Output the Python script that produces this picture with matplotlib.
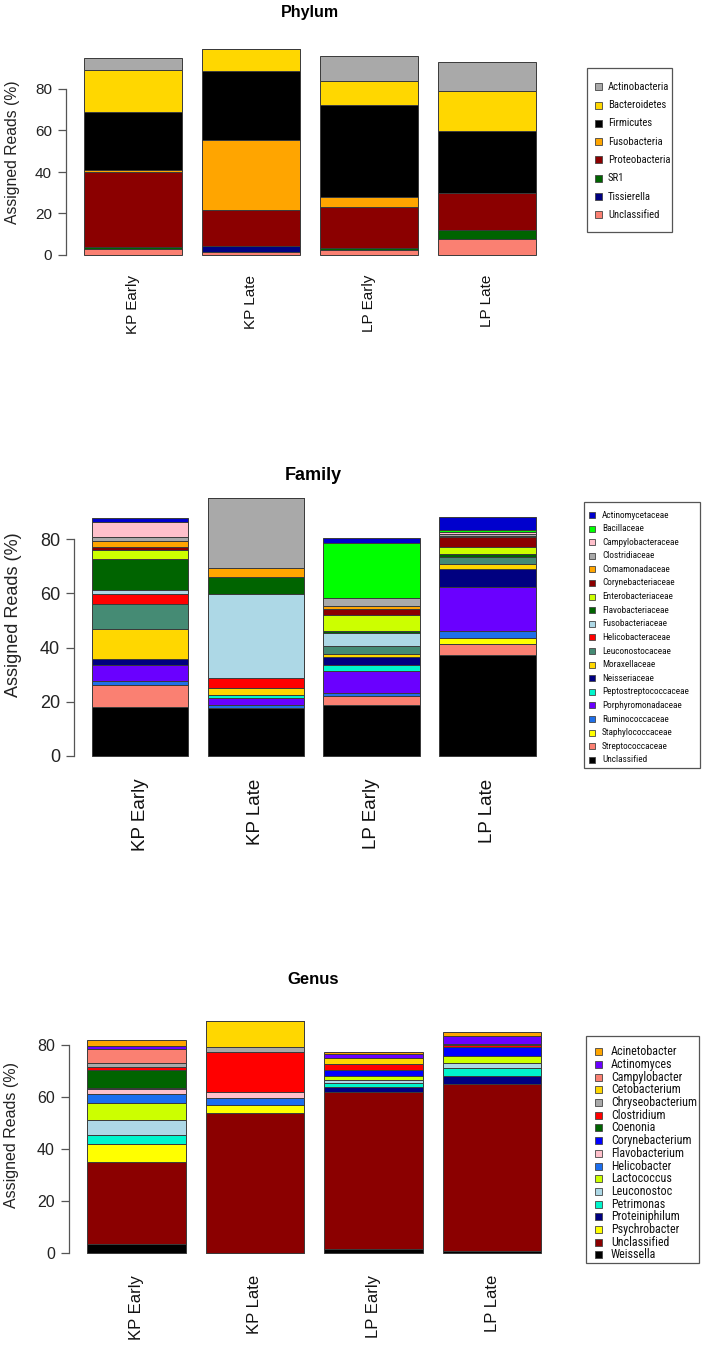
import matplotlib
matplotlib.use("Agg")
import matplotlib.pyplot as plt
from matplotlib.patches import Rectangle
from matplotlib import font_manager as fm
import numpy as np

W, H = 703, 1349
samples = ["KP Early", "KP Late", "LP Early", "LP Late"]

# ---------------- Phylum (stack order bottom -> top) ----------------
phylum_names = ["Unclassified", "Tissierella", "SR1", "Proteobacteria",
                "Fusobacteria", "Firmicutes", "Bacteroidetes", "Actinobacteria"]
phylum_colors = ["#FA8072", "#000080", "#006400", "#8B0000",
                 "#FFA500", "#000000", "#FFD700", "#A9A9A9"]
ph_unclassified = [2.7, 1.6, 2.4, 7.9]
ph_tissierella = [0.0, 2.7, 0.0, 0.0]
ph_sr1 = [1.3, 0.0, 1.1, 4.1]
ph_proteobacteria = [35.8, 17.4, 19.6, 18.0]
ph_fusobacteria = [1.3, 33.6, 4.9, 0.0]
ph_firmicutes = [28.0, 33.4, 44.4, 29.9]
ph_bacteroidetes = [19.9, 10.6, 11.5, 19.3]
ph_actinobacteria = [6.1, 0.0, 12.1, 13.8]
phylum_vals = [ph_unclassified, ph_tissierella, ph_sr1, ph_proteobacteria,
               ph_fusobacteria, ph_firmicutes, ph_bacteroidetes, ph_actinobacteria]

# ---------------- Family ----------------
family_names = ["Unclassified", "Streptococcaceae", "Staphylococcaceae", "Ruminococcaceae",
                "Porphyromonadaceae", "Peptostreptococcaceae", "Neisseriaceae", "Moraxellaceae",
                "Leuconostocaceae", "Helicobacteraceae", "Fusobacteriaceae", "Flavobacteriaceae",
                "Enterobacteriaceae", "Corynebacteriaceae", "Comamonadaceae", "Clostridiaceae",
                "Campylobacteraceae", "Bacillaceae", "Actinomycetaceae"]
family_colors = ["#000000", "#FA8072", "#FFFF00", "#1F6FE8",
                 "#6A00FF", "#00F5CC", "#000080", "#FFD700",
                 "#458B74", "#FF0000", "#ADD8E6", "#006400",
                 "#CCFF00", "#8B0000", "#FFA500", "#A9A9A9",
                 "#FFC0CB", "#00FF00", "#0000CD"]
fa_unclassified = [18.2, 17.6, 18.7, 37.3]
fa_streptococcaceae = [8.1, 0.0, 3.4, 4.0]
fa_staphylococcaceae = [0.0, 0.0, 0.0, 2.1]
fa_ruminococcaceae = [1.3, 1.1, 1.0, 2.7]
fa_porphyromonadaceae = [5.9, 2.6, 8.3, 16.4]
fa_peptostreptococcaceae = [0.0, 1.1, 2.2, 0.0]
fa_neisseriaceae = [2.4, 0.0, 2.8, 6.5]
fa_moraxellaceae = [11.0, 2.8, 1.2, 1.8]
fa_leuconostocaceae = [9.1, 0.0, 3.1, 2.8]
fa_helicobacteraceae = [3.9, 3.7, 0.0, 0.0]
fa_fusobacteriaceae = [1.5, 30.8, 4.8, 0.0]
fa_flavobacteriaceae = [11.4, 6.2, 0.6, 0.8]
fa_enterobacteriaceae = [3.2, 0.0, 5.8, 2.8]
fa_corynebacteriaceae = [1.0, 0.0, 2.5, 3.5]
fa_comamonadaceae = [2.5, 3.6, 1.1, 0.6]
fa_clostridiaceae = [1.4, 25.6, 2.9, 0.7]
fa_campylobacteraceae = [5.6, 0.0, 0.0, 0.5]
fa_bacillaceae = [0.0, 0.0, 20.3, 0.9]
fa_actinomycetaceae = [1.3, 0.0, 1.9, 4.7]
family_vals = [fa_unclassified, fa_streptococcaceae, fa_staphylococcaceae, fa_ruminococcaceae,
               fa_porphyromonadaceae, fa_peptostreptococcaceae, fa_neisseriaceae, fa_moraxellaceae,
               fa_leuconostocaceae, fa_helicobacteraceae, fa_fusobacteriaceae, fa_flavobacteriaceae,
               fa_enterobacteriaceae, fa_corynebacteriaceae, fa_comamonadaceae, fa_clostridiaceae,
               fa_campylobacteraceae, fa_bacillaceae, fa_actinomycetaceae]

# ---------------- Genus ----------------
genus_names = ["Weissella", "Unclassified", "Psychrobacter", "Proteiniphilum", "Petrimonas",
               "Leuconostoc", "Lactococcus", "Helicobacter", "Flavobacterium", "Corynebacterium",
               "Coenonia", "Clostridium", "Chryseobacterium", "Cetobacterium", "Campylobacter",
               "Actinomyces", "Acinetobacter"]
genus_colors = ["#000000", "#8B0000", "#FFFF00", "#000080", "#00F5CC",
                "#ADD8E6", "#CCFF00", "#1C6EEE", "#FFC0CB", "#0000FF",
                "#006400", "#FF0000", "#A9A9A9", "#FFD700", "#FA8072",
                "#6A00FF", "#FFA500"]
ge_weissella = [3.5, 0.0, 1.7, 0.9]
ge_unclassified = [31.6, 53.7, 60.3, 64.0]
ge_psychrobacter = [6.8, 3.1, 0.0, 0.0]
ge_proteiniphilum = [0.0, 0.0, 2.0, 3.2]
ge_petrimonas = [3.5, 0.0, 1.3, 2.9]
ge_leuconostoc = [5.6, 0.0, 1.1, 1.9]
ge_lactococcus = [6.7, 0.0, 1.7, 2.9]
ge_helicobacter = [3.6, 2.9, 0.0, 0.0]
ge_flavobacterium = [1.7, 2.1, 0.0, 0.0]
ge_corynebacterium = [0.4, 0.0, 2.4, 3.6]
ge_coenonia = [7.1, 0.0, 0.0, 0.0]
ge_clostridium = [1.0, 15.4, 2.1, 0.5]
ge_chryseobacterium = [1.6, 1.9, 0.0, 0.0]
ge_cetobacterium = [0.0, 10.1, 2.3, 0.0]
ge_campylobacter = [5.3, 0.0, 0.0, 0.5]
ge_actinomyces = [1.1, 0.0, 1.8, 3.2]
ge_acinetobacter = [2.5, 0.0, 0.5, 1.5]
genus_vals = [ge_weissella, ge_unclassified, ge_psychrobacter, ge_proteiniphilum, ge_petrimonas,
              ge_leuconostoc, ge_lactococcus, ge_helicobacter, ge_flavobacterium, ge_corynebacterium,
              ge_coenonia, ge_clostridium, ge_chryseobacterium, ge_cetobacterium, ge_campylobacter,
              ge_actinomyces, ge_acinetobacter]

yticks = [0, 20, 40, 60, 80]

SANS = ["Liberation Sans", "DejaVu Sans"]


def pick_narrow():
    prefs = ["Liberation Sans Narrow", "Arial Narrow", "Roboto Condensed",
             "Open Sans Condensed", "DejaVu Sans Condensed", "Noto Sans Condensed"]
    found = {}
    for f in fm.fontManager.ttflist:
        nm = f.name
        fname = f.fname.lower()
        cond = ("narrow" in nm.lower() or "condensed" in nm.lower() or "condensed" in fname
                or "narrow" in fname or str(f.stretch) in ("condensed", "semi-condensed"))
        if not cond or "mono" in nm.lower() or "serif" in nm.lower():
            continue
        if "bold" in fname or "italic" in fname or "oblique" in fname or "light" in fname:
            continue
        if f.style != "normal":
            continue
        found.setdefault(nm, f.fname)
    for p in prefs:
        if p in found:
            return fm.FontProperties(fname=found[p])
    for f in fm.fontManager.ttflist:
        if "DejaVuSansCondensed.ttf" in f.fname:
            return fm.FontProperties(fname=f.fname)
    if found:
        return fm.FontProperties(fname=list(found.values())[0])
    return fm.FontProperties(family="Liberation Sans")


NARROW_FP = pick_narrow()

fig = plt.figure(figsize=(W / 100, H / 100), dpi=100)
renderer = fig.canvas.get_renderer()


def fx(x):
    return x / W


def fy(y):
    return 1 - y / H


def panel(vals, colors, left_px, ppux, y0_px, ppuy, fs_tick, fs_xlab, xlab_pad):
    vals = np.array(vals)
    totals = vals.sum(axis=0)
    top = totals.max()
    ymin, ymax = -0.04 * top, 1.04 * top
    xmin, xmax = 0.016, 4.984
    right_px = left_px + (xmax - xmin) * ppux
    top_px = y0_px - ymax * ppuy
    bot_px = y0_px - ymin * ppuy
    ax = fig.add_axes([fx(left_px), fy(bot_px), (right_px - left_px) / W, (bot_px - top_px) / H])
    centers = 0.7 + 1.2 * np.arange(len(samples))
    bottom = np.zeros(len(samples))
    for v, c in zip(vals, colors):
        ax.bar(centers, v, width=1.0, bottom=bottom, color=c,
               edgecolor="#3a3a3a", linewidth=0.7)
        bottom += v
    ax.set_xlim(xmin, xmax)
    ax.set_ylim(ymin, ymax)
    for s in ["top", "right", "bottom"]:
        ax.spines[s].set_visible(False)
    ax.spines["left"].set_bounds(0, 80)
    ax.spines["left"].set_color("#555555")
    ax.spines["left"].set_linewidth(0.9)
    ax.set_yticks(yticks)
    ax.set_yticklabels([str(t) for t in yticks], fontsize=fs_tick, family=SANS, color="#222222")
    ax.tick_params(axis="y", length=6, width=0.9, color="#555555", pad=4)
    ax.set_xticks(centers)
    ax.set_xticklabels(samples, rotation=90, fontsize=fs_xlab, family=SANS, va="top", color="#111111")
    ax.tick_params(axis="x", length=0, pad=xlab_pad)
    ax.patch.set_alpha(0)
    return ax


def fit_size(names, target_w, max_fs):
    fp = NARROW_FP.copy()
    fp.set_size(max_fs)
    widest = 0
    for n in names:
        t = fig.text(0, 0, n, fontproperties=fp)
        widest = max(widest, t.get_window_extent(renderer).width)
        t.remove()
    return min(max_fs, max_fs * target_w / widest)


def legend(names, colors, box, first_y, step, sq_x, sq_size, text_x, max_fs, target_w):
    x0, y0, x1, y1 = box
    fs = fit_size(names, target_w, max_fs)
    fp = NARROW_FP.copy()
    fp.set_size(fs)
    fig.patches.append(Rectangle((fx(x0), fy(y1)), (x1 - x0) / W, (y1 - y0) / H,
                                 transform=fig.transFigure, fill=False,
                                 edgecolor="#555555", linewidth=0.9))
    for i, (n, c) in enumerate(zip(names, colors)):
        yc = first_y + i * step
        fig.patches.append(Rectangle((fx(sq_x), fy(yc + sq_size / 2)), sq_size / W, sq_size / H,
                                     transform=fig.transFigure, facecolor=c,
                                     edgecolor="#444444", linewidth=0.6))
        fig.text(fx(text_x), fy(yc), n, fontproperties=fp, va="center", ha="left",
                 color="#111111")


# Phylum panel
panel(phylum_vals, phylum_colors, 65.9, 98.3, 255, 2.075, 11, 11, 8.5)
fig.text(fx(310), fy(12), "Phylum", fontsize=11.5, fontweight="bold", family=SANS,
         ha="center", va="center")
fig.text(fx(13), fy(152), "Assigned Reads (%)", fontsize=11.3, family=SANS, rotation=90,
         ha="center", va="center", color="#222222")
legend(phylum_names[::-1], phylum_colors[::-1], (587, 68, 672, 232), 86.7, 18.3, 595, 7, 608,
       10, 62)

# Family panel
panel(family_vals, family_colors, 74.0, 96.5, 756, 2.71, 13, 13.5, 9)
fig.text(fx(313), fy(475), "Family", fontsize=13, fontweight="bold", family=SANS,
         ha="center", va="center")
fig.text(fx(14), fy(615), "Assigned Reads (%)", fontsize=13, family=SANS, rotation=90,
         ha="center", va="center", color="#222222")
legend(family_names[::-1], family_colors[::-1], (584, 502, 700, 768), 515, 13.6, 589, 6, 602,
       9, 87)

# Genus panel
panel(genus_vals, genus_colors, 68.8, 98.8, 1253, 2.6, 11.5, 12, 9)
fig.text(fx(313), fy(979), "Genus", fontsize=12, fontweight="bold", family=SANS,
         ha="center", va="center")
fig.text(fx(12), fy(1135), "Assigned Reads (%)", fontsize=11.5, family=SANS, rotation=90,
         ha="center", va="center", color="#222222")
legend(genus_names[::-1], genus_colors[::-1], (586, 1036, 699, 1263), 1051.7, 12.7, 595, 7, 611,
       10, 86)

fig.savefig("out.png", dpi=100)
